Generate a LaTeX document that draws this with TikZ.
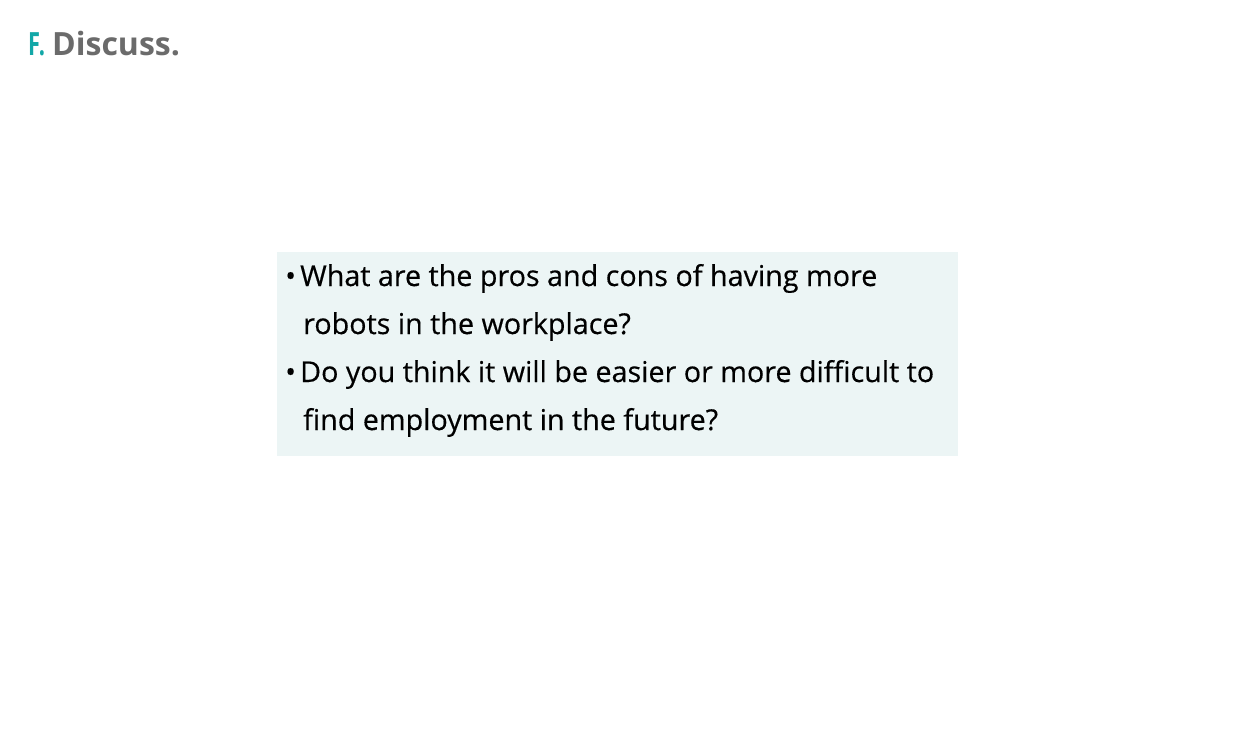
\documentclass[tikz,border=0pt]{standalone}
\usepackage{fontspec}
\setmainfont{Open Sans}
\newfontfamily\qfont[FakeBold=0.4]{Open Sans}
\definecolor{teal1}{HTML}{12A7A7}
\definecolor{gray1}{HTML}{6B6B6B}
\definecolor{boxfill}{HTML}{ECF5F5}
\tikzset{
  qtext/.style={anchor=base west, inner sep=0pt, font=\qfont\fontsize{28.7}{28.7}\selectfont, text=black},
  ttl/.style={anchor=base west, inner sep=0pt, font=\fontsize{32}{32}\selectfont\bfseries}
}
\begin{document}
\begin{tikzpicture}[x=1pt,y=-1pt]
\useasboundingbox (0,0) rectangle (1235,740);
\fill[white] (0,0) rectangle (1235,740);
\node[ttl, text=teal1] (lf) at (28,55) {\scalebox{0.68}[1]{F.}};
\node[ttl, text=gray1] (ld) at (52,55) {Discuss.};
\fill[boxfill] (277,252) rectangle (958,456);
\node[qtext] (b1) at (285,286) {\textbullet};
\node[qtext] (l1) at (300,286) {What are the pros and cons of having more};
\node[qtext] (l2) at (303,334) {robots in the workplace?};
\node[qtext] (b2) at (285,382) {\textbullet};
\node[qtext] (l3) at (300,382) {Do you think it will be easier or more difficult to};
\node[qtext] (l4) at (303,430) {find employment in the future?};
\end{tikzpicture}
\end{document}
